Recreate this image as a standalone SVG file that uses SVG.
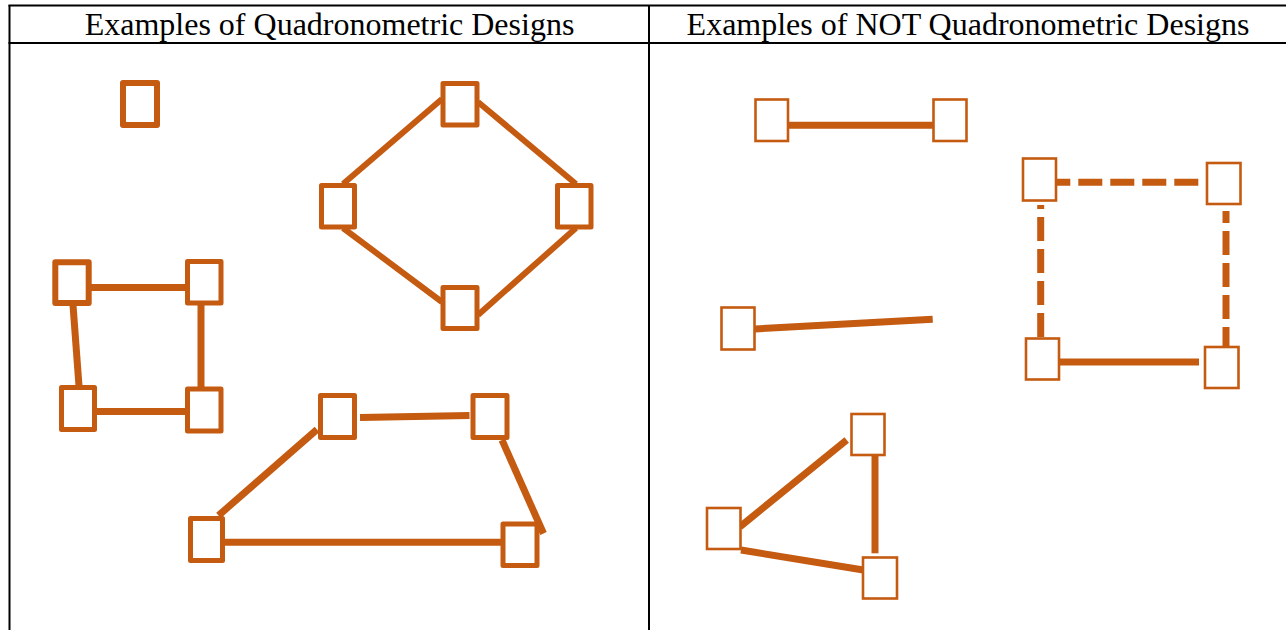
<svg xmlns="http://www.w3.org/2000/svg" width="1286" height="630" viewBox="0 0 1286 630">
<style>
.grid{stroke:#000;stroke-width:2;fill:none}
.hdr{font-family:"Liberation Serif","Times New Roman",serif;font-size:32px;fill:#000;text-anchor:middle}
.c{stroke:#C55A11;stroke-width:6;fill:none}
.c2{stroke:#C55A11;stroke-width:7;fill:none}
.d{stroke:#C55A11;stroke-width:7;fill:none;stroke-dasharray:24 8}
.n{fill:#fff;stroke:#C55A11;stroke-width:5;stroke-linejoin:round}
.n6{fill:#fff;stroke:#C55A11;stroke-width:6;stroke-linejoin:round}
.m{fill:#fff;stroke:#C55A11;stroke-width:2.6}
</style>
<rect width="1286" height="630" fill="#fff"/>
<g id="table">
<line class="grid" x1="8.5" y1="5.5" x2="1290" y2="5.5"/>
<line class="grid" x1="8.5" y1="43" x2="1290" y2="43"/>
<line class="grid" x1="9.5" y1="5" x2="9.5" y2="632"/>
<line class="grid" x1="649" y1="5" x2="649" y2="632"/>
<text class="hdr" x="329.5" y="35">Examples of Quadronometric Designs</text>
<text class="hdr" x="968" y="35">Examples of NOT Quadronometric Designs</text>
</g>
<g id="connectors">
<line class="c" x1="343" y1="184" x2="442" y2="99"/>
<line class="c" x1="478" y1="102" x2="576" y2="184"/>
<line class="c" x1="343" y1="228" x2="442" y2="302"/>
<line class="c" x1="576" y1="228" x2="478" y2="315"/>
<line class="c2" x1="91" y1="287.5" x2="186" y2="287.5"/>
<line class="c2" x1="201" y1="304" x2="201" y2="387"/>
<line class="c2" x1="73" y1="305" x2="79" y2="386"/>
<line class="c2" x1="96" y1="411.5" x2="186" y2="411.5"/>
<line class="c2" x1="360" y1="417.5" x2="469.5" y2="415.5"/>
<line class="c2" x1="218.5" y1="515.5" x2="317" y2="429.5"/>
<line class="c2" x1="502" y1="440" x2="543.5" y2="533.5"/>
<line class="c2" x1="223" y1="542.3" x2="507" y2="542.3"/>
<line class="c2" x1="789" y1="125.3" x2="933" y2="125.3"/>
<line class="d" x1="1046.3" y1="182.3" x2="1199" y2="182.3"/>
<line class="d" x1="1040.7" y1="205" x2="1040.7" y2="340" stroke-dashoffset="20"/>
<line class="d" x1="1226" y1="211" x2="1226" y2="351" stroke-dashoffset="12"/>
<line class="c2" x1="1057.3" y1="362" x2="1199" y2="362"/>
<line class="c2" x1="755" y1="329" x2="932.7" y2="319.3"/>
<line class="c2" x1="740" y1="526.7" x2="846.7" y2="440"/>
<line class="c2" x1="875" y1="455" x2="875" y2="553.3"/>
<line class="c2" x1="741" y1="550" x2="863.3" y2="570"/>
</g>
<g id="q-single"><rect class="n6" x="123" y="83" width="34" height="42"/></g>
<g id="q-diamond-top"><rect class="n" x="443" y="83.5" width="34" height="41.5"/></g>
<g id="q-diamond-left"><rect class="n" x="321.5" y="185.5" width="33" height="41.5"/></g>
<g id="q-diamond-right"><rect class="n" x="557.5" y="185.5" width="33.5" height="41.5"/></g>
<g id="q-diamond-bottom"><rect class="n" x="443" y="287.5" width="34" height="41"/></g>
<g id="q-sq-tl"><rect class="n6" x="55.3" y="262.3" width="33.4" height="40.7"/></g>
<g id="q-sq-tr"><rect class="n" x="187.5" y="261.5" width="33.5" height="41.5"/></g>
<g id="q-sq-bl"><rect class="n" x="61.5" y="387.5" width="33" height="42"/></g>
<g id="q-sq-br"><rect class="n" x="187.5" y="389" width="33.5" height="42"/></g>
<g id="q-tr-tl"><rect class="n" x="320.5" y="395.5" width="34" height="42"/></g>
<g id="q-tr-tr"><rect class="n" x="473" y="395.5" width="34" height="42"/></g>
<g id="q-tr-bl"><rect class="n" x="190.5" y="518.5" width="32" height="42"/></g>
<g id="q-tr-br"><rect class="n" x="503" y="524" width="34" height="41.5"/></g>
<g id="n-pair-l"><rect class="m" x="755.5" y="99.5" width="32.5" height="41.5"/></g>
<g id="n-pair-r"><rect class="m" x="933.5" y="99.5" width="33" height="41.5"/></g>
<g id="n-dash-tl"><rect class="m" x="1023" y="158.5" width="33" height="42"/></g>
<g id="n-dash-tr"><rect class="m" x="1207" y="163" width="33.5" height="41"/></g>
<g id="n-dash-bl"><rect class="m" x="1026" y="338.5" width="33" height="41"/></g>
<g id="n-dash-br"><rect class="m" x="1205" y="347" width="33.5" height="41"/></g>
<g id="n-single-line"><rect class="m" x="721.5" y="307.5" width="33" height="42"/></g>
<g id="n-tri-top"><rect class="m" x="851.5" y="414" width="33" height="41"/></g>
<g id="n-tri-left"><rect class="m" x="707" y="508" width="33.5" height="41"/></g>
<g id="n-tri-bottom"><rect class="m" x="863" y="557.5" width="34" height="41"/></g>
</svg>
